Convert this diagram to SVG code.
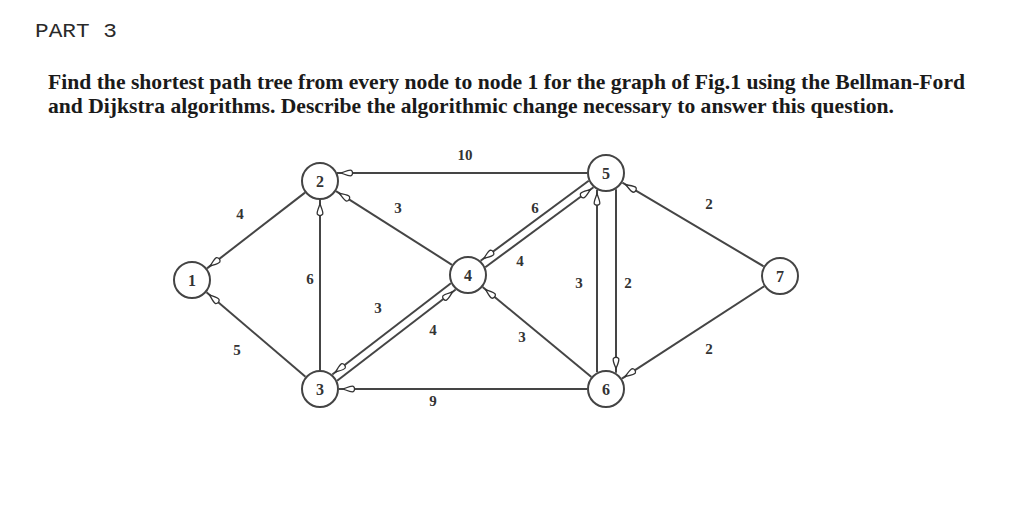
<svg xmlns="http://www.w3.org/2000/svg" width="1024" height="529" viewBox="0 0 1024 529">
<style>
.bg{fill:#ffffff}
.hdr{font-family:"Liberation Mono","Courier New",monospace;font-size:21px;fill:#2a2a2a}
.para{font-family:"Liberation Serif","Times New Roman",serif;font-size:22px;font-weight:bold;fill:#1a1a1a}
.edge{fill:none;stroke:#454545;stroke-width:2;marker-end:url(#arr)}
.node circle{fill:#ffffff;stroke:#444444;stroke-width:2}
.nl{font-family:"Liberation Serif","Times New Roman",serif;font-size:16px;font-weight:bold;fill:#333333;text-anchor:middle}
.el{font-family:"Liberation Serif","Times New Roman",serif;font-size:15px;font-weight:bold;fill:#333333;text-anchor:middle}
</style>
<defs>
<marker id="arr" markerUnits="userSpaceOnUse" viewBox="-2 -5 20 10" markerWidth="20" markerHeight="10" refX="16" refY="0" orient="auto">
<path d="M12,0 C8.5,-1.2 4,-3.5 1.8,-2.7 C0,-1.5 0,1.5 1.8,2.7 C4,3.5 8.5,1.2 12,0 Z" fill="#ffffff" stroke="#333333" stroke-width="1.3"/>
</marker>
</defs>
<rect class="bg" x="0" y="0" width="1024" height="529"/>
<g id="header">
<text class="hdr" x="35" y="37" textLength="82" lengthAdjust="spacingAndGlyphs">PART 3</text>
<text class="para" x="48" y="89" textLength="917" lengthAdjust="spacingAndGlyphs">Find the shortest path tree from every node to node 1 for the graph of Fig.1 using the Bellman-Ford</text>
<text class="para" x="48" y="113" textLength="846" lengthAdjust="spacingAndGlyphs">and Dijkstra algorithms. Describe the algorithmic change necessary to answer this question.</text>
</g>
<g id="connectors">
<path id="e2-1" class="edge" d="M305,192.6 L207,268.4"/>
<path id="e3-1" class="edge" d="M305.5,376.7 L206.5,292.3"/>
<path id="e3-2" class="edge" d="M320,370 L320,200"/>
<path id="e4-2" class="edge" d="M452,264.8 L336,191.2"/>
<path id="e5-2" class="edge" d="M587,173 L337,173"/>
<path id="e6-3" class="edge" d="M587,389 L339,389"/>
<path id="e3-4" class="edge" d="M337.1,380.8 L455.7,289.5"/>
<path id="e4-3" class="edge" d="M450.9,283.2 L332.3,374.5"/>
<path id="e4-5" class="edge" d="M485.3,267.2 L593.5,187.3"/>
<path id="e5-4" class="edge" d="M588.7,180.8 L480.6,260.8"/>
<path id="e6-4" class="edge" d="M591.4,376.9 L482.6,287.1"/>
<path id="e6-5" class="edge" d="M597,372.3 L597,189.7"/>
<path id="e5-6" class="edge" d="M616,189.2 L616,372.8"/>
<path id="e7-5" class="edge" d="M763.6,266.3 L622.4,182.7"/>
<path id="e7-6" class="edge" d="M764.1,286.3 L621.9,378.7"/>
</g>
<g id="edge-labels">
<text class="el" x="465" y="160">10</text>
<text class="el" x="240" y="219">4</text>
<text class="el" x="237" y="355">5</text>
<text class="el" x="310" y="284">6</text>
<text class="el" x="398" y="213">3</text>
<text class="el" x="378" y="313">3</text>
<text class="el" x="433" y="335">4</text>
<text class="el" x="433" y="406">9</text>
<text class="el" x="535" y="213">6</text>
<text class="el" x="520" y="266">4</text>
<text class="el" x="522" y="342">3</text>
<text class="el" x="579" y="288">3</text>
<text class="el" x="628" y="288">2</text>
<text class="el" x="709" y="209">2</text>
<text class="el" x="709" y="354">2</text>
</g>
<g id="node1" class="node"><circle cx="192" cy="280" r="18"/><text class="nl" x="192" y="285.5">1</text></g>
<g id="node2" class="node"><circle cx="320" cy="181" r="18"/><text class="nl" x="320" y="186.5">2</text></g>
<g id="node3" class="node"><circle cx="320" cy="389" r="18"/><text class="nl" x="320" y="394.5">3</text></g>
<g id="node4" class="node"><circle cx="468" cy="275" r="18"/><text class="nl" x="468" y="280.5">4</text></g>
<g id="node5" class="node"><circle cx="606" cy="173" r="18"/><text class="nl" x="606" y="178.5">5</text></g>
<g id="node6" class="node"><circle cx="606" cy="389" r="18"/><text class="nl" x="606" y="394.5">6</text></g>
<g id="node7" class="node"><circle cx="780" cy="276" r="18"/><text class="nl" x="780" y="281.5">7</text></g>
</svg>
